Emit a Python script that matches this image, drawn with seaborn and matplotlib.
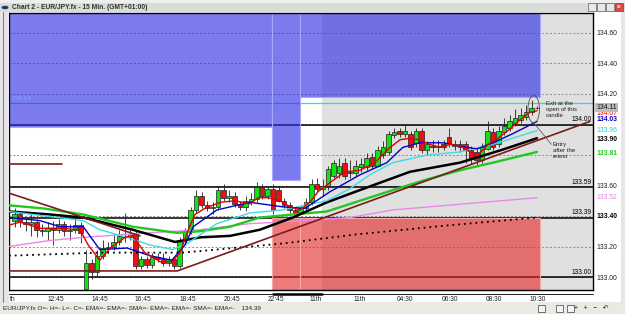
import matplotlib
matplotlib.use("Agg")
import matplotlib.pyplot as plt
import seaborn as sns
import pandas as pd
from matplotlib.patches import Rectangle, Ellipse, Circle
from matplotlib.lines import Line2D

# ---------------- data ----------------
opens = [133.37, 133.41, 133.36, 133.35, 133.36, 133.31, 133.30, 133.32, 133.31, 133.35,
         133.30, 133.31, 133.34, 132.92, 133.09, 133.03, 133.14, 133.19, 133.20, 133.23,
         133.27, 133.26, 133.28, 133.07, 133.12, 133.08, 133.13, 133.12, 133.09, 133.12,
         133.07, 133.24, 133.30, 133.44, 133.53, 133.47, 133.45, 133.46, 133.57, 133.52,
         133.53, 133.48, 133.46, 133.50, 133.51, 133.59, 133.53, 133.58, 133.57, 133.50,
         133.47, 133.44, 133.42, 133.45, 133.49, 133.61, 133.58, 133.60, 133.66, 133.68,
         133.75, 133.69, 133.68, 133.72, 133.72, 133.79, 133.73, 133.80, 133.82, 133.93,
         133.96, 133.94, 133.94, 133.88, 133.96, 133.83, 133.86, 133.85, 133.87, 133.92,
         133.86, 133.87, 133.87, 133.83, 133.82, 133.77, 133.84, 133.95, 133.87, 133.95,
         133.98, 134.01, 134.03, 134.05, 134.08, 134.11]
closes = [133.41, 133.36, 133.35, 133.36, 133.31, 133.30, 133.32, 133.31, 133.35, 133.30,
          133.31, 133.34, 133.29, 133.09, 133.03, 133.14, 133.19, 133.20, 133.23, 133.27,
          133.26, 133.28, 133.07, 133.12, 133.08, 133.13, 133.12, 133.09, 133.12, 133.07,
          133.24, 133.30, 133.44, 133.53, 133.47, 133.45, 133.46, 133.57, 133.52, 133.53,
          133.48, 133.46, 133.50, 133.51, 133.59, 133.53, 133.58, 133.44, 133.50, 133.47,
          133.44, 133.42, 133.45, 133.49, 133.61, 133.58, 133.60, 133.71, 133.75, 133.73,
          133.66, 133.68, 133.73, 133.74, 133.78, 133.73, 133.83, 133.85, 133.94, 133.95,
          133.94, 133.96, 133.85, 133.96, 133.83, 133.87, 133.85, 133.86, 133.85, 133.88,
          133.87, 133.85, 133.83, 133.78, 133.77, 133.85, 133.96, 133.85, 133.96, 133.99,
          134.02, 134.04, 134.06, 134.08, 134.11, 134.11]
highs = [133.45, 133.43, 133.39, 133.41, 133.38, 133.35, 133.36, 133.37, 133.38, 133.37,
         133.35, 133.41, 133.36, 133.18, 133.12, 133.18, 133.24, 133.23, 133.28, 133.31,
         133.42, 133.31, 133.31, 133.14, 133.14, 133.16, 133.16, 133.16, 133.14, 133.14,
         133.26, 133.32, 133.46, 133.57, 133.56, 133.50, 133.49, 133.60, 133.61, 133.57,
         133.56, 133.50, 133.53, 133.55, 133.62, 133.61, 133.60, 133.61, 133.60, 133.52,
         133.49, 133.46, 133.47, 133.52, 133.64, 133.65, 133.64, 133.73, 133.77, 133.78,
         133.78, 133.77, 133.77, 133.78, 133.81, 133.81, 133.86, 133.89, 133.96, 133.98,
         133.98, 134.00, 133.96, 133.98, 133.98, 133.89, 133.90, 133.90, 133.90, 133.98,
         133.90, 133.90, 133.89, 133.86, 133.84, 133.88, 134.02, 133.98, 133.99, 134.04,
         134.06, 134.10, 134.11, 134.13, 134.16, 134.12]
lows = [133.33, 133.33, 133.30, 133.27, 133.26, 133.27, 133.24, 133.21, 133.29, 133.27,
        133.24, 133.29, 133.22, 132.91, 132.99, 133.01, 133.12, 133.16, 133.18, 133.21,
        133.23, 133.24, 133.05, 133.05, 133.06, 133.06, 133.10, 133.07, 133.07, 133.05,
        133.06, 133.22, 133.28, 133.42, 133.45, 133.43, 133.41, 133.44, 133.50, 133.49,
        133.46, 133.44, 133.43, 133.47, 133.49, 133.51, 133.51, 133.41, 133.49, 133.45,
        133.42, 133.40, 133.41, 133.43, 133.47, 133.56, 133.53, 133.57, 133.65, 133.65,
        133.64, 133.65, 133.66, 133.69, 133.70, 133.71, 133.72, 133.78, 133.80, 133.91,
        133.92, 133.92, 133.83, 133.85, 133.81, 133.80, 133.82, 133.82, 133.83, 133.85,
        133.83, 133.82, 133.75, 133.74, 133.73, 133.75, 133.83, 133.83, 133.85, 133.93,
        133.96, 133.99, 134.01, 134.03, 134.06, 134.10]

# moving averages (candle index, price)
ema_red_x = [-1, 1, 4.6, 8.3, 11.9, 13.4, 15.5, 17.4, 20.1, 21.5, 23.7, 26.5, 28.6, 30.1, 31.5,
             32.8, 34.6, 37.4, 40.1, 42.8, 44.3, 46.1, 48.3, 50.1, 51.9, 53.7, 55.2, 57.4, 60.1,
             62.8, 65.5, 68.3, 70.1, 71.9, 73.7, 75.5, 77.4, 79.2, 81.0, 82.8, 84.3, 86.1, 87.9,
             89.7, 91.9, 93.7, 95]
ema_red_y = [133.34, 133.36, 133.32, 133.32, 133.31, 133.21, 133.11, 133.19, 133.26, 133.27,
             133.16, 133.10, 133.10, 133.16, 133.30, 133.41, 133.45, 133.49, 133.50, 133.48,
             133.52, 133.52, 133.50, 133.46, 133.44, 133.49, 133.56, 133.62, 133.69, 133.70,
             133.75, 133.85, 133.90, 133.91, 133.90, 133.87, 133.85, 133.87, 133.86, 133.82,
             133.80, 133.87, 133.91, 133.96, 134.03, 134.08, 134.09]
ema_blue_x = [-1, 4.6, 8.3, 12.5, 15.5, 20.5, 24.6, 28.6, 31, 32.5, 36.8, 42.8, 48.8, 52.8,
              57.4, 62.8, 67.7, 70.6, 73.7, 77.9, 82.3, 84.1, 87, 90.6, 95]
ema_blue_y = [133.39, 133.37, 133.33, 133.33, 133.18, 133.19, 133.14, 133.11, 133.21, 133.33,
              133.44, 133.49, 133.46, 133.45, 133.56, 133.67, 133.75, 133.85, 133.88, 133.88,
              133.85, 133.84, 133.88, 133.94, 134.02]
sma_cyan_x = [-1, 3.4, 12.5, 15.5, 20.5, 24.6, 28.8, 31.4, 36.8, 42.8, 48.8, 56.8, 61, 64.6,
              68.8, 75, 81, 87, 95]
sma_cyan_y = [133.43, 133.41, 133.37, 133.31, 133.26, 133.21, 133.18, 133.22, 133.35, 133.42,
              133.44, 133.50, 133.58, 133.67, 133.75, 133.80, 133.82, 133.87, 133.96]
ema_green_x = [-1, 5.2, 12.5, 21.5, 29.5, 33.7, 39.2, 44.6, 56.8, 68.8, 75, 81, 87, 95]
ema_green_y = [133.47, 133.45, 133.41, 133.33, 133.29, 133.30, 133.33, 133.39, 133.43, 133.57,
               133.64, 133.70, 133.75, 133.82]
ema_black_x = [-1, 6.5, 12.5, 21.5, 29.2, 33.7, 39.2, 44.6, 50.6, 56.8, 62.8, 71.9, 81, 88.3, 95]
ema_black_y = [133.43, 133.41, 133.39, 133.31, 133.23, 133.26, 133.27, 133.31, 133.39, 133.49,
               133.57, 133.69, 133.75, 133.83, 133.91]
sma_pink_x = [-1, 6.5, 12.5, 24.6, 33.7, 42.8, 48.3, 61, 68.8, 95]
sma_pink_y = [133.20, 133.24, 133.26, 133.29, 133.31, 133.35, 133.36, 133.39, 133.44, 133.52]
ema_dotted_x = [-1, 15.5, 30.6, 48.8, 62.3, 79.2, 95]
ema_dotted_y = [133.14, 133.16, 133.16, 133.22, 133.28, 133.34, 133.39]

# drawn trend lines
support_x = [-1, 29.6, 104.6]
support_y = [133.04, 133.04, 134.02]
resist_x = [-1, 22.8]
resist_y = [133.55, 133.27]
stub_x = [-1, 8.6]
stub_y = [133.74, 133.74]

# levels
black_levels = [134.00, 133.59, 133.39, 133.00]
black_level_labels = ["134.00", "133.59", "133.39", "133.00"]
cyan_level = 134.14
grid_levels = [134.6, 134.4, 134.2, 134.0, 133.8, 133.6, 133.4, 133.2, 133.0]
axis_ticks = [134.60, 134.40, 134.20, 133.60, 133.20, 133.00]

# zones
blue_x0 = [-1.0, 46.9, 51.9]
blue_x1 = [46.9, 51.9, 95.5]
blue_low = [133.984, 133.636, 134.18]
red_x0 = [46.9, 51.9]
red_x1 = [51.9, 95.5]
red_high = 133.39
session_start = 55.9

# price tags on the right axis
tag_values = [134.07, 134.03, 133.96, 133.90, 133.81, 133.52, 133.40]
tag_colors = ["#e00000", "#0000c8", "#20d0d8", "#000000", "#22cc22", "#e080e0", "#000000"]
tag_bold = [False, True, False, True, True, False, True]
last_price = 134.11

# time axis
tick_pos = [-0.4, 7.5, 15.5, 23.4, 31.5, 39.5, 47.5, 54.8, 62.8, 71.0, 79.2, 87.2, 95.2]
tick_labels = ["th", "12:45", "14:45", "16:45", "18:45", "20:45", "22:45", "11th", "11th",
               "04:30", "06:30", "08:30", "10:30"]

# ---------------- figure ----------------
sns.set_style("white")
plt.rcParams['font.family'] = ['Liberation Sans', 'DejaVu Sans']
W, H = 625, 314
fig = plt.figure(figsize=(6.25, 3.14), dpi=100)
fig.patch.set_facecolor("white")


def fx(px):
    return px / W


def fy(py):
    return 1 - py / H


# window chrome
fig.add_artist(Rectangle((0, fy(12)), 1, 12 / H, transform=fig.transFigure, fc="#d9dcd9", ec="none"))
fig.add_artist(Rectangle((0, fy(3)), 1, 3 / H, transform=fig.transFigure, fc="#eef0ee", ec="none"))
fig.add_artist(Rectangle((0, fy(302)), fx(9), 290 / H, transform=fig.transFigure, fc="#e6e6e6", ec="none"))
fig.add_artist(Line2D([fx(2.5), fx(2.5)], [fy(12), fy(302)], color="#808080", lw=0.8))
fig.add_artist(Rectangle((fx(621), fy(302)), fx(4), 290 / H, transform=fig.transFigure, fc="#e6e6e6", ec="none"))
fig.add_artist(Rectangle((0, 0), 1, 12 / H, transform=fig.transFigure, fc="#ebe9e3", ec="none"))
fig.add_artist(Circle((fx(5), fy(7.5)), 3.5 / W, transform=fig.transFigure, fc="#203a70", ec="none"))
fig.text(fx(12), fy(7.5), "Chart 2 - EUR/JPY.fx - 15 Min. (GMT+01:00)", fontsize=4.8,
         fontweight="bold", color="#303030", va="center", ha="left")
for bx in [588, 597, 606]:
    fig.add_artist(Rectangle((fx(bx), fy(11)), 8 / W, 8 / H, transform=fig.transFigure,
                             fc="#e8e8e8", ec="#606060", lw=0.5))
fig.add_artist(Rectangle((fx(614.5), fy(11)), 8 / W, 8 / H, transform=fig.transFigure,
                         fc="#e04848", ec="#903030", lw=0.5))
fig.text(fx(618.5), fy(7), "x", fontsize=4.5, color="white", ha="center", va="center", fontweight="bold")
fig.text(fx(3), fy(308), "EUR/JPY.fx O=- H=- L=- C=- EMA=- EMA=- SMA=- EMA=- EMA=- SMA=- EMA=-    134.39",
         fontsize=4.6, color="#202020", va="center", ha="left")
for bx in [538, 556, 567]:
    fig.add_artist(Rectangle((fx(bx), fy(312)), 6.5 / W, 7 / H, transform=fig.transFigure,
                             fc="#f4f4f4", ec="#404040", lw=0.5))
fig.text(fx(591), fy(308), "+   +   \u2212   \u21b6", fontsize=4.8, color="#202020", va="center", ha="center")
fig.add_artist(Line2D([fx(9), fx(593)], [fy(293.5), fy(293.5)], color="#202020", lw=0.7))
fig.add_artist(Line2D([fx(273), fx(322)], [fy(293.5), fy(293.5)], color="#000000", lw=1.8))

ax = fig.add_axes([fx(9), 24 / H, 584 / W, 277 / H])
ax.set_xlim(-1.0, 105.18)
ax.set_ylim(132.915, 134.731)
ax.set_facecolor("white")
ax.axvspan(session_start, 105.18, color="#e0e0e0", lw=0, zorder=0)

for lvl in grid_levels:
    ax.axhline(lvl, color="#8c8c8c", lw=0.7, ls=(0, (2, 2)), zorder=0.5)
for lvl in black_levels:
    ax.axhline(lvl, color="black", lw=1.1, zorder=1)
ax.axhline(cyan_level, color="#30d8e0", lw=0.9, zorder=1)

for x0, x1, lo in zip(blue_x0, blue_x1, blue_low):
    ax.add_patch(Rectangle((x0, lo), x1 - x0, 134.9 - lo, fc=(49 / 255, 49 / 255, 230 / 255, 0.64),
                           ec="#a8a8ff", lw=0.8, zorder=2))
for x0, x1 in zip(red_x0, red_x1):
    ax.add_patch(Rectangle((x0, 132.8), x1 - x0, red_high - 132.8, fc=(230 / 255, 40 / 255, 40 / 255, 0.62),
                           ec="#f5a8a8", lw=0.8, zorder=2))

# candles
idx = list(range(len(opens)))
ax.vlines(idx, lows, highs, color="#202020", lw=0.6, zorder=3)
body_col = ["#14e014" if c > o else ("#ee1010" if c < o else "#000000") for o, c in zip(opens, closes)]
ax.bar(idx, [c - o for o, c in zip(opens, closes)], bottom=opens, width=0.8, color=body_col,
       edgecolor="#202020", linewidth=0.5, zorder=3.5)

# moving averages via seaborn
lines = [
    (ema_dotted_x, ema_dotted_y, "#000000", 1.3, (0, (1, 2.2))),
    (sma_pink_x, sma_pink_y, "#e888e8", 1.0, "-"),
    (ema_green_x, ema_green_y, "#22c822", 1.7, "-"),
    (ema_black_x, ema_black_y, "#000000", 1.8, "-"),
    (sma_cyan_x, sma_cyan_y, "#3cdce4", 1.0, "-"),
    (ema_blue_x, ema_blue_y, "#0000c8", 1.0, "-"),
    (ema_red_x, ema_red_y, "#e00000", 1.0, "-"),
]
for xs, ys, col, lw, ls in lines:
    sns.lineplot(x=xs, y=ys, ax=ax, color=col, lw=lw, linestyle=ls, sort=False,
                 estimator=None, legend=False, zorder=4)
for xs, ys in [(support_x, support_y), (resist_x, resist_y), (stub_x, stub_y)]:
    sns.lineplot(x=xs, y=ys, ax=ax, color="#7a1c1c", lw=1.2, sort=False, estimator=None,
                 legend=False, zorder=4.2)

# annotations
for lvl, lab in zip(black_levels, black_level_labels):
    ax.text(104.9, lvl + 0.009, lab, fontsize=4.8, ha="right", va="bottom", color="black", zorder=6)
ax.text(-0.5, cyan_level + 0.03, "134.14", fontsize=4.6, color="#7fa8ff", ha="left", va="center", zorder=6)
ax.add_patch(Ellipse((94.4, 134.10), 2.1, 0.18, fc="none", ec="#505050", lw=0.6, zorder=6))
ax.plot([94.3, 97.6], [134.016, 133.87], color="#606060", lw=0.6, zorder=6)
ax.text(96.6, 134.152, "Exit at the\nopen of this\ncandle", fontsize=4.3, ha="left", va="top",
        linespacing=1.15, color="#202020", zorder=6)
ax.text(97.9, 133.885, "Entry\nafter the\nretest", fontsize=4.3, ha="left", va="top",
        linespacing=1.2, color="#202020", zorder=6)

# axes styling
for s in ax.spines.values():
    s.set_color("black")
    s.set_linewidth(1.0)
ax.yaxis.tick_right()
ax.set_yticks(axis_ticks, [f"{v:.2f}" for v in axis_ticks])
ax.tick_params(axis="y", length=0, pad=2.5, labelsize=4.9, labelcolor="#202020")
ax.set_xticks(tick_pos, tick_labels)
ax.tick_params(axis="x", length=0, pad=4.2, labelsize=4.8, labelcolor="#202020")
ax.set_xlabel("")
ax.set_ylabel("")

ytr = ax.get_yaxis_transform()
for v, c, b in zip(tag_values, tag_colors, tag_bold):
    ax.text(1.0055, v, f"{v:.2f}", transform=ytr, fontsize=4.9, color=c,
            fontweight="bold" if b else "normal", ha="left", va="center", clip_on=False, zorder=7)
ax.text(1.0055, last_price, f"{last_price:.2f}", transform=ytr, fontsize=4.9, color="#101010",
        ha="left", va="center", clip_on=False, zorder=8,
        bbox=dict(boxstyle="square,pad=0.15", fc="#bdbdbd", ec="none"))

fig.savefig("out.png", dpi=100, facecolor=fig.get_facecolor())
